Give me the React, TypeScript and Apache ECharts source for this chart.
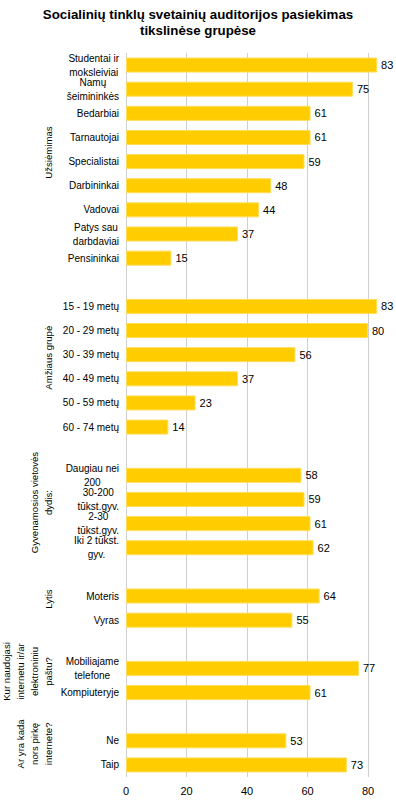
import React, { useEffect, useRef } from "react";
import * as echarts from "echarts";

const chartTitle = "Socialinių tinklų svetainių auditorijos pasiekimas\ntikslinėse grupėse";

const occupationLabels = ["Studentai ir\nmoksleiviai", "Namų\nšeimininkės", "Bedarbiai", "Tarnautojai", "Specialistai", "Darbininkai", "Vadovai", "Patys sau\ndarbdaviai", "Pensininkai"];
const occupationValues = [83, 75, 61, 61, 59, 48, 44, 37, 15];

const ageLabels = ["15 - 19 metų", "20 - 29 metų", "30 - 39 metų", "40 - 49 metų", "50 - 59 metų", "60 - 74 metų"];
const ageValues = [83, 80, 56, 37, 23, 14];

const settlementLabels = ["Daugiau nei\n200", "30-200\ntūkst.gyv.", "2-30\ntūkst.gyv.", "Iki 2 tūkst.\ngyv."];
const settlementValues = [58, 59, 61, 62];

const genderLabels = ["Moteris", "Vyras"];
const genderValues = [64, 55];

const deviceLabels = ["Mobiliajame\ntelefone", "Kompiuteryje"];
const deviceValues = [77, 61];

const purchaseLabels = ["Ne", "Taip"];
const purchaseValues = [53, 73];

const groupTitles = [
  "Užsiėmimas",
  "Amžiaus grupė",
  "Gyvenamosios vietovės\ndydis:",
  "Lytis",
  "Kur naudojasi\ninternetu ir/ar\nelektroniniu\npaštu?",
  "Ar yra kada\nnors pirkę\ninternete?",
];

const xTicks = [0, 20, 40, 60, 80];

const FONT = "'Liberation Sans', Arial, sans-serif";

export default function App() {
  const ref = useRef<HTMLDivElement>(null);

  useEffect(() => {
    if (!ref.current) return;
    const chart = echarts.init(ref.current, undefined, { renderer: "svg" });

    const groups = [
      { labels: occupationLabels, values: occupationValues },
      { labels: ageLabels, values: ageValues },
      { labels: settlementLabels, values: settlementValues },
      { labels: genderLabels, values: genderValues },
      { labels: deviceLabels, values: deviceValues },
      { labels: purchaseLabels, values: purchaseValues },
    ];

    const categories: string[] = [];
    const data: (number | string)[] = [];
    const ranges: [number, number][] = [];
    groups.forEach((g, gi) => {
      const start = categories.length;
      g.labels.forEach((l, i) => {
        categories.push(l);
        data.push(g.values[i]);
      });
      ranges.push([start, categories.length - 1]);
      if (gi < groups.length - 1) {
        categories.push("__gap" + gi);
        data.push("-");
      }
    });

    const option: any = {
      animation: false,
      backgroundColor: "#ffffff",
      title: {
        text: chartTitle,
        left: "center",
        top: 1,
        textStyle: {
          fontFamily: FONT,
          fontSize: 13.3,
          fontWeight: "bold",
          color: "#000",
          lineHeight: 16,
        },
      },
      grid: { left: 126, right: 28, top: 53, bottom: 23, containLabel: false },
      xAxis: {
        type: "value",
        min: xTicks[0],
        max: xTicks[xTicks.length - 1],
        interval: 20,
        axisLine: { show: false },
        axisTick: { show: false },
        axisLabel: { fontFamily: FONT, fontSize: 11, color: "#000", margin: 8 },
        splitLine: { show: true, lineStyle: { color: "#cfcfcf", width: 1 } },
      },
      yAxis: {
        type: "category",
        inverse: true,
        data: categories,
        axisLine: { show: false },
        axisTick: { show: false },
        axisLabel: {
          interval: 0,
          margin: 7,
          align: "right",
          fontFamily: FONT,
          fontSize: 10,
          color: "#000",
          lineHeight: 14,
          formatter: (v: string) =>
            v.startsWith("__gap") ? "" : v.split("\n").map((l) => `{c|${l}}`).join("\n"),
          rich: {
            c: { align: "center", fontFamily: FONT, fontSize: 10, color: "#000", lineHeight: 14 },
          },
        },
        splitLine: { show: false },
      },
      series: [
        {
          type: "bar",
          data,
          barWidth: 15,
          clip: false,
          itemStyle: { color: "#FFCC00", borderColor: "#FFDD55", borderWidth: 1 },
          label: {
            show: true,
            position: "right",
            distance: 4,
            fontFamily: FONT,
            fontSize: 11,
            color: "#000",
          },
        },
      ],
    };

    chart.setOption(option);

    const lineH = 14;
    const graphics = groupTitles.map((t, i) => {
      const [a, b] = ranges[i];
      const ya = chart.convertToPixel({ yAxisIndex: 0 }, a) as number;
      const yb = chart.convertToPixel({ yAxisIndex: 0 }, b) as number;
      const n = t.split("\n").length;
      return {
        type: "text",
        x: 48 - ((n - 1) * lineH) / 2,
        y: (ya + yb) / 2 - 9,
        rotation: Math.PI / 2,
        style: {
          text: t,
          fontFamily: FONT,
          fontSize: 9.6,
          fill: "#000",
          align: "center",
          verticalAlign: "middle",
          lineHeight: lineH,
        },
      };
    });
    chart.setOption({ graphic: graphics });

    return () => chart.dispose();
  }, []);

  return (
    <div
      ref={ref}
      style={{ position: "fixed", left: 0, top: 0, width: 396, height: 800 }}
    />
  );
}
